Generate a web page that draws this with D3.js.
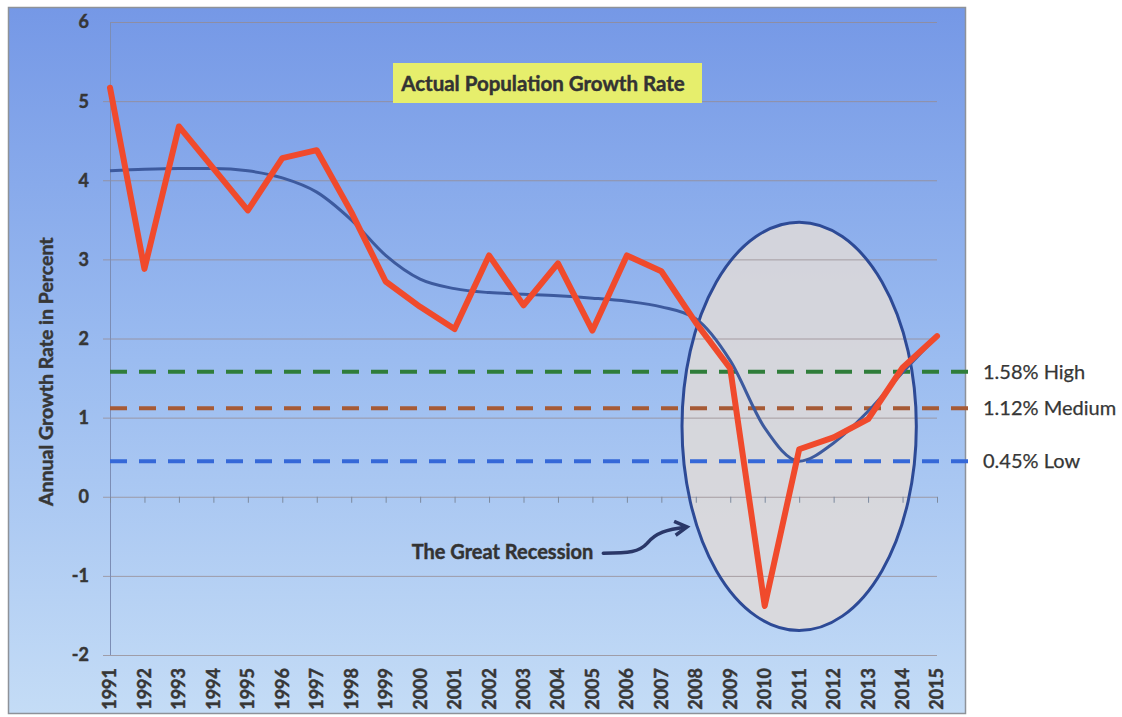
<!DOCTYPE html>
<html>
<head>
<meta charset="utf-8">
<script src="https://cdn.jsdelivr.net/npm/d3@7"></script>
<style>
  html, body { margin: 0; padding: 0; background: #ffffff; }
  svg { display: block; }
  text { font-family: Lato, "Open Sans", sans-serif; }
  .heavy { font-weight: 700; stroke: currentColor; stroke-width: 0.45px; }
</style>
</head>
<body>
<svg id="chart" width="1122" height="717"></svg>
<script>
// Annual population growth rate, 1991-2015 (percent)
const years = d3.range(1991, 2016);
const actualRate = [5.17, 2.88, 4.68, 4.15, 3.62, 4.28, 4.38, 3.6, 2.72, 2.4,
                    2.12, 3.05, 2.42, 2.95, 2.1, 3.05, 2.85, 2.2, 1.62, -1.38,
                    0.6, 0.75, 0.98, 1.63, 2.03];
// Smoothed trend of the same series
const trendRate = [4.12, 4.14, 4.15, 4.15, 4.12, 4.03, 3.85, 3.5, 3.05, 2.75,
                   2.63, 2.58, 2.56, 2.54, 2.51, 2.47, 2.4, 2.25, 1.72, 0.87,
                   0.45, 0.68, 1.08, 1.57, 2.03];
// Projection scenarios
const scenarioNames = ["High", "Medium", "Low"];
const scenarioValues = [1.58, 1.12, 0.45];
const scenarioColors = ["#2f7d3a", "#a65a35", "#3568d8"];
const yTicks = [-2, -1, 0, 1, 2, 3, 4, 5, 6];

const svg = d3.select("#chart");
const ink = "#363636";

const x = d3.scaleLinear().domain([1991, 2015]).range([110, 937]);
const y = d3.scaleLinear().domain([-2, 6]).range([655, 22]);

// background panel with vertical gradient
const defs = svg.append("defs");
const grad = defs.append("linearGradient").attr("id", "bg")
  .attr("x1", 0).attr("y1", 0).attr("x2", 0).attr("y2", 1);
grad.append("stop").attr("offset", "0%").attr("stop-color", "#7598e6");
grad.append("stop").attr("offset", "50%").attr("stop-color", "#9bbcf0");
grad.append("stop").attr("offset", "100%").attr("stop-color", "#c4dcf6");

defs.append("marker").attr("id", "arrowhead")
  .attr("viewBox", "0 0 10 10").attr("refX", 7).attr("refY", 5)
  .attr("markerWidth", 5).attr("markerHeight", 5).attr("orient", "auto")
  .append("path").attr("d", "M1,1 L8,5 L1,9")
  .attr("fill", "none").attr("stroke", "#2a3768").attr("stroke-width", 2);

svg.append("rect").attr("x", 8.5).attr("y", 7.5).attr("width", 957).attr("height", 706)
  .attr("fill", "url(#bg)").attr("stroke", "#8e9299").attr("stroke-width", 1.5);

// recession highlight (fill under the grid)
const ell = {
  cx: x(2011), cy: y(0.89),
  rx: x(2011) - x(2007.6), ry: y(-1.69) - y(0.89)
};
svg.append("ellipse")
  .attr("cx", ell.cx).attr("cy", ell.cy).attr("rx", ell.rx).attr("ry", ell.ry)
  .attr("fill", "#dedad9").attr("fill-opacity", 0.86);

// gridlines
svg.append("g").selectAll("line").data(yTicks).join("line")
  .attr("x1", d => d === 6 ? x(1991) : x(1991) - 7).attr("x2", x(2015))
  .attr("y1", d => y(d) + 0.5).attr("y2", d => y(d) + 0.5)
  .attr("stroke", "#958a8e").attr("stroke-opacity", 0.75).attr("stroke-width", 1);

// vertical axis line
svg.append("line").attr("x1", x(1991) + 0.5).attr("x2", x(1991) + 0.5)
  .attr("y1", y(6)).attr("y2", y(-2))
  .attr("stroke", "#7c8db5").attr("stroke-width", 1);

// zero axis with year ticks
svg.append("g").selectAll("line").data(years).join("line")
  .attr("x1", d => x(d) + 0.5).attr("x2", d => x(d) + 0.5)
  .attr("y1", y(0)).attr("y2", y(0) + 6)
  .attr("stroke", "#7c8a9f").attr("stroke-width", 1);

// recession highlight outline
svg.append("ellipse")
  .attr("cx", ell.cx).attr("cy", ell.cy).attr("rx", ell.rx).attr("ry", ell.ry)
  .attr("fill", "none").attr("stroke", "#2d4a96").attr("stroke-width", 3);

// y tick labels
svg.append("g").selectAll("text").data(yTicks).join("text")
  .attr("class", "heavy").style("color", ink)
  .attr("x", 89).attr("y", d => y(d)).attr("dy", "0.36em")
  .attr("text-anchor", "end").attr("font-size", 18)
  .attr("fill", ink).text(d => d);

// year labels (rotated)
svg.append("g").selectAll("text").data(years).join("text")
  .attr("class", "heavy").style("color", ink)
  .attr("transform", d => `translate(${x(d)},668) rotate(-90)`)
  .attr("dy", "0.36em").attr("text-anchor", "end")
  .attr("font-size", 18).attr("fill", ink)
  .text(d => d);

// y axis title
svg.append("text").attr("class", "heavy").style("color", ink)
  .attr("transform", `translate(46,${y(1.58)}) rotate(-90)`)
  .attr("text-anchor", "middle").attr("dy", "0.36em")
  .attr("font-size", 19.5).attr("fill", ink)
  .text("Annual Growth Rate in Percent");

// scenario dashed lines with labels
const scen = svg.append("g").selectAll("g").data(scenarioValues).join("g");
scen.append("line")
  .attr("x1", x(1991)).attr("x2", 972)
  .attr("y1", d => y(d)).attr("y2", d => y(d))
  .attr("stroke", (d, i) => scenarioColors[i]).attr("stroke-width", 4)
  .attr("stroke-dasharray", "17,12");
scen.append("text")
  .attr("x", 983).attr("y", d => y(d)).attr("dy", "0.36em")
  .attr("font-size", 20).attr("fill", ink)
  .style("stroke", ink).style("stroke-width", "0.25px")
  .text((d, i) => `${d.toFixed(2)}% ${scenarioNames[i]}`);

// trend curve
const trendLine = d3.line().x((d, i) => x(years[i])).y(d => y(d)).curve(d3.curveMonotoneX);
svg.append("path").datum(trendRate).attr("d", trendLine)
  .attr("fill", "none").attr("stroke", "#3d5a9e").attr("stroke-width", 3);

// actual rate
const actualLine = d3.line().x((d, i) => x(years[i])).y(d => y(d));
svg.append("path").datum(actualRate).attr("d", actualLine)
  .attr("fill", "none").attr("stroke", "#f04a2c").attr("stroke-width", 6)
  .attr("stroke-linejoin", "round").attr("stroke-linecap", "round");

// title box
const titleG = svg.append("g");
titleG.append("rect").attr("x", 393).attr("y", 63).attr("width", 309).attr("height", 40)
  .attr("fill", "#e6ee6c");
titleG.append("text").attr("class", "heavy").style("color", "#333333")
  .attr("x", 543).attr("y", 84).attr("dy", "0.36em")
  .attr("text-anchor", "middle").attr("font-size", 20.5)
  .attr("fill", "#333333").text("Actual Population Growth Rate");

// recession annotation
const annX = x(2005.2), annY = y(-0.7);
svg.append("text").attr("class", "heavy").style("color", "#333333")
  .attr("x", annX - 6).attr("y", annY).attr("dy", "0.36em")
  .attr("text-anchor", "end").attr("font-size", 20)
  .attr("fill", "#333333").text("The Great Recession");
svg.append("path")
  .attr("d", `M${annX + 4},${annY + 1} C${annX + 30},${annY + 1} ${annX + 40},${annY} ${annX + 48},${annY - 9} C${annX + 56},${annY - 19} ${annX + 68},${annY - 23} ${annX + 86},${annY - 25}`)
  .attr("fill", "none").attr("stroke", "#2a3768").attr("stroke-width", 3.5)
  .attr("stroke-linecap", "round").attr("marker-end", "url(#arrowhead)");
</script>
</body>
</html>
